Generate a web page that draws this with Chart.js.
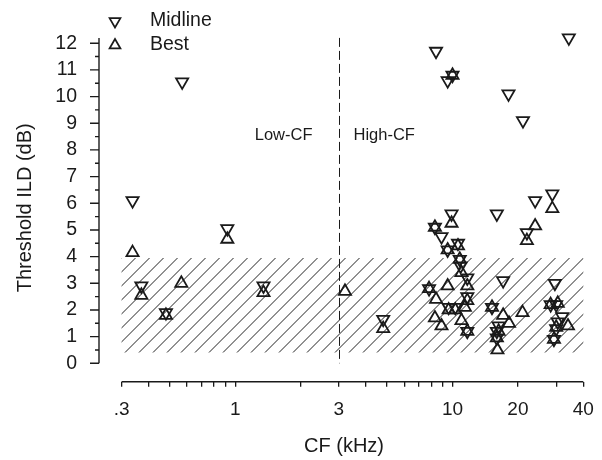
<!DOCTYPE html>
<html>
<head>
<meta charset="utf-8">
<script src="https://cdn.jsdelivr.net/npm/chart.js@4/dist/chart.umd.min.js"></script>
<style>
  html, body { margin: 0; padding: 0; background: #ffffff; }
  #wrap { width: 602px; height: 460px; }
</style>
</head>
<body>
<div id="wrap"><canvas id="chart" width="602" height="460"></canvas></div>
<script>
// Threshold ILD per neuron, plotted against characteristic frequency (kHz)
const midlineCF  = [0.337, 0.37, 0.48, 0.57, 0.92, 1.35, 4.8, 7.8, 8.3, 8.4, 8.9, 9.5, 9.5, 9.6,
                    9.9, 10.0, 10.3, 10.6, 10.8, 10.9, 11.7, 11.7, 11.7, 15.2, 16.0, 16.3, 16.0, 16.0,
                    17.1, 18.1, 21.1, 22.0, 24.0, 28.3, 28.8, 29.3, 29.6, 30.0, 30.5, 30.0, 32.0, 34.3];
const midlineILD = [6.1, 2.9, 1.9, 10.55, 5.05, 2.9, 1.65, 2.8, 5.1, 11.7, 4.75, 10.6, 4.25, 2.1,
                    5.6, 10.8, 2.1, 4.5, 3.9, 3.65, 3.2, 2.5, 1.2, 2.1, 5.6, 1.4, 1.2, 0.95,
                    3.1, 10.1, 9.1, 4.9, 6.1, 2.2, 6.35, 0.9, 3.0, 2.2, 1.55, 1.3, 1.75, 12.2];

const bestCF  = [0.337, 0.37, 0.48, 0.565, 0.92, 1.35, 3.2, 4.8, 7.8, 8.3, 8.4, 8.3, 8.9, 9.5,
                 9.5, 9.6, 9.9, 10.0, 10.3, 10.6, 10.8, 11.0, 11.0, 11.4, 11.7, 11.7, 11.7, 15.2,
                 16.3, 16.0, 16.1, 17.1, 18.2, 21.0, 22.0, 24.0, 28.3, 28.8, 29.3, 30.5, 30.0, 34.0];
const bestILD = [4.15, 2.55, 1.8, 3.0, 4.65, 2.65, 2.7, 1.3, 2.8, 5.1, 2.4, 1.7, 1.4, 4.25,
                 2.9, 2.0, 5.25, 10.8, 2.0, 4.4, 3.9, 3.4, 1.6, 2.1, 2.9, 2.35, 1.2, 2.1,
                 1.2, 0.95, 0.5, 1.8, 1.5, 1.9, 4.6, 5.15, 2.2, 5.8, 0.9, 2.25, 1.35, 1.4];

// Axis ticks
const xTickValues = [0.3, 0.4, 0.5, 0.6, 0.7, 0.8, 0.9, 1, 2, 3, 4, 5, 6, 7, 8, 9, 10, 20, 30, 40];
const xTickLabels = { 0.3: '.3', 1: '1', 3: '3', 10: '10', 20: '20', 40: '40' };
const yTickValues = [0, 0.5, 1, 1.5, 2, 2.5, 3, 3.5, 4, 4.5, 5, 5.5, 6, 6.5, 7, 7.5, 8, 8.5,
                     9, 9.5, 10, 10.5, 11, 11.5, 12];

// Reference band and CF split
const bandILD = [0.4, 3.95];
const bandCF = [0.3, 40];
const splitCF = 3;
const axisTopILD = 12.2;

const INK = '#1a1a1a';
const FONT = "'Liberation Sans', Arial, Helvetica, sans-serif";

const toPoints = (xs, ys) => xs.map((x, i) => ({ x: x, y: ys[i] }));

const decorations = {
  id: 'decorations',
  beforeDatasetsDraw(chart) {
    const { ctx } = chart;
    const xs = chart.scales.x, ys = chart.scales.y;
    ctx.save();

    // hatched reference band
    const hx0 = xs.getPixelForValue(bandCF[0]), hx1 = xs.getPixelForValue(bandCF[1]);
    const hy0 = ys.getPixelForValue(bandILD[1]), hy1 = ys.getPixelForValue(bandILD[0]);
    ctx.save();
    ctx.beginPath();
    ctx.rect(hx0, hy0, hx1 - hx0, hy1 - hy0);
    ctx.clip();
    ctx.strokeStyle = '#222222';
    ctx.lineWidth = 1;
    ctx.beginPath();
    const step = 14;
    for (let c = hx0 + hy0 - 2 * step * 40; c < hx1 + hy1 + step; c += step) {
      // line x + y = c
      ctx.moveTo(c - hy1, hy1);
      ctx.lineTo(c - hy0, hy0);
    }
    ctx.stroke();
    ctx.restore();

    // dashed split line
    const sx = Math.round(xs.getPixelForValue(splitCF)) + 0.5;
    ctx.strokeStyle = INK;
    ctx.lineWidth = 1;
    ctx.setLineDash([9, 4]);
    ctx.beginPath();
    ctx.moveTo(sx, ys.getPixelForValue(axisTopILD));
    ctx.lineTo(sx, ys.getPixelForValue(0));
    ctx.stroke();
    ctx.setLineDash([]);

    // axis lines
    ctx.lineWidth = 1.4;
    ctx.strokeStyle = INK;
    const ax = xs.left;
    ctx.beginPath();
    ctx.moveTo(ax, ys.getPixelForValue(axisTopILD));
    ctx.lineTo(ax, ys.getPixelForValue(0));
    ctx.stroke();
    ctx.beginPath();
    ctx.moveTo(xs.getPixelForValue(xTickValues[0]), ys.bottom);
    ctx.lineTo(xs.getPixelForValue(xTickValues[xTickValues.length - 1]), ys.bottom);
    ctx.stroke();

    // y tick marks: long on whole dB, short on half dB
    ctx.beginPath();
    yTickValues.forEach(v => {
      const py = ys.getPixelForValue(v);
      const len = Number.isInteger(v) ? 9 : 4;
      ctx.moveTo(ax, py);
      ctx.lineTo(ax - len, py);
    });
    ctx.stroke();

    // region labels
    ctx.fillStyle = INK;
    ctx.font = '16.5px ' + FONT;
    ctx.textBaseline = 'middle';
    const ly = ys.getPixelForValue(8.56);
    ctx.textAlign = 'right';
    ctx.fillText('Low-CF', sx - 27, ly);
    ctx.textAlign = 'left';
    ctx.fillText('High-CF', sx + 14, ly);

    // legend
    const lx = 115;
    ctx.lineWidth = 1.7;
    ctx.strokeStyle = INK;
    ctx.fillStyle = 'rgba(0,0,0,0)';
    Chart.helpers.drawPoint(ctx, { pointStyle: 'triangle', radius: 6.3, rotation: 180, borderWidth: 1.7 }, lx, 21.2);
    Chart.helpers.drawPoint(ctx, { pointStyle: 'triangle', radius: 6.3, rotation: 0, borderWidth: 1.7 }, lx, 45.3);
    ctx.fillStyle = INK;
    ctx.font = '19.5px ' + FONT;
    ctx.textAlign = 'left';
    ctx.textBaseline = 'middle';
    ctx.fillText('Midline', 150, 20.5);
    ctx.fillText('Best', 150, 45);

    ctx.restore();
  }
};

new Chart(document.getElementById('chart'), {
  type: 'scatter',
  data: {
    datasets: [
      {
        label: 'Midline',
        data: toPoints(midlineCF, midlineILD),
        pointStyle: 'triangle',
        pointRotation: 180,
        pointRadius: 7,
        pointHoverRadius: 7,
        pointBorderWidth: 1.8,
        pointBorderColor: INK,
        pointBackgroundColor: 'rgba(0,0,0,0)',
        clip: false
      },
      {
        label: 'Best',
        data: toPoints(bestCF, bestILD),
        pointStyle: 'triangle',
        pointRotation: 0,
        pointRadius: 7,
        pointHoverRadius: 7,
        pointBorderWidth: 1.8,
        pointBorderColor: INK,
        pointBackgroundColor: 'rgba(0,0,0,0)',
        clip: false
      }
    ]
  },
  options: {
    responsive: false,
    animation: false,
    devicePixelRatio: 1,
    layout: { padding: { top: 33.9, right: 10, left: 0, bottom: 0 } },
    plugins: { legend: { display: false }, tooltip: { enabled: false } },
    scales: {
      x: {
        type: 'logarithmic',
        min: 0.2362,
        max: 42.5,
        afterBuildTicks: s => { s.ticks = xTickValues.map(v => ({ value: v })); },
        afterFit: s => { s.height = 78.3; },
        border: { display: false },
        grid: { display: true, drawOnChartArea: false, drawTicks: true, tickLength: 5, color: INK, lineWidth: 1.3 },
        ticks: {
          autoSkip: false, maxRotation: 0, minRotation: 0, padding: 8,
          color: INK, font: { family: FONT, size: 19, lineHeight: 1.6 },
          callback: v => (xTickLabels[v] !== undefined ? xTickLabels[v] : '')
        },
        title: { display: true, text: 'CF (kHz)', color: INK, font: { family: FONT, size: 20 }, padding: { top: 0, bottom: 2 } }
      },
      y: {
        type: 'linear',
        min: -0.69,
        max: 12.35,
        afterBuildTicks: s => { s.ticks = yTickValues.map(v => ({ value: v })); },
        afterFit: s => { s.width = 99; },
        border: { display: false },
        grid: { display: true, drawOnChartArea: false, drawTicks: false },
        ticks: {
          autoSkip: false, padding: 22,
          color: INK, font: { family: FONT, size: 19.5 },
          callback: v => (Number.isInteger(v) ? String(v) : '')
        },
        title: { display: true, text: 'Threshold ILD (dB)', color: INK, font: { family: FONT, size: 20 }, padding: { top: 13, bottom: 0 } }
      }
    }
  },
  plugins: [decorations]
});
</script>
</body>
</html>
